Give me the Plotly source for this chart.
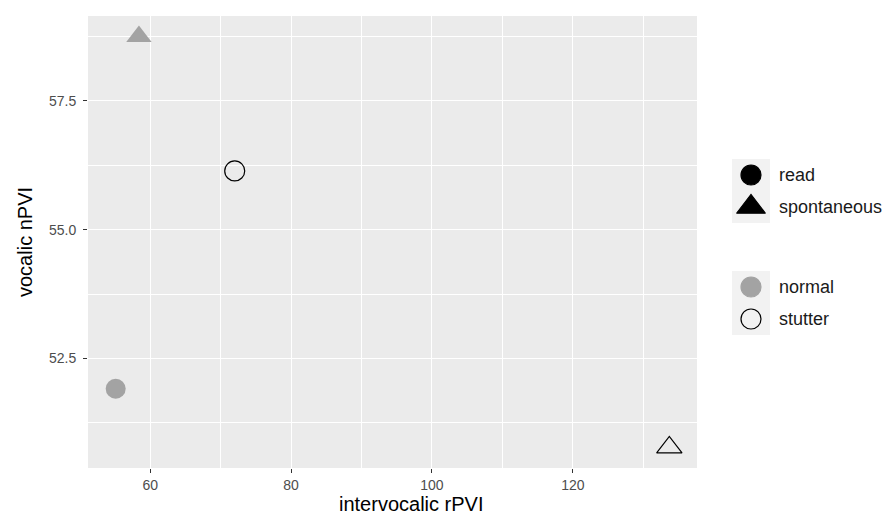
import plotly.graph_objects as go

# ---- data ----
speaker_group = ["normal", "normal", "stutter", "stutter"]
task = ["read", "spontaneous", "read", "spontaneous"]
intervocalic_rpvi = [55.1, 58.4, 72.0, 133.7]
vocalic_npvi = [51.91, 58.75, 56.14, 50.77]

x_ticks = [60, 80, 100, 120]
x_minor = [70, 90, 110, 130]
y_ticks = [52.5, 55.0, 57.5]
y_minor = [51.25, 53.75, 56.25, 58.75]

task_levels = ["read", "spontaneous"]
group_levels = ["normal", "stutter"]

# ---- styling ----
W, H = 890, 514
PANEL = dict(l=88, r=697, t=16, b=468)
GRAY = "#A3A3A3"
SYMBOL = {"read": "circle", "spontaneous": "triangle-up"}
MSIZE = {"read": 20, "spontaneous": 22}
FONT = "Liberation Sans, Arial, sans-serif"


def expand(vals, mult=0.05):
    lo, hi = min(vals), max(vals)
    d = (hi - lo) * mult
    return [lo - d, hi + d]


fig = go.Figure()

for g, t, xv, yv in zip(speaker_group, task, intervocalic_rpvi, vocalic_npvi):
    filled = g == "normal"
    fig.add_trace(go.Scatter(
        x=[xv], y=[yv], mode="markers", showlegend=False,
        marker=dict(symbol=SYMBOL[t], size=MSIZE[t], opacity=1,
                    color=GRAY if filled else "rgba(0,0,0,0)",
                    line=dict(color=GRAY if filled else "black", width=0 if filled else 1.2)),
        xaxis="x", yaxis="y", cliponaxis=False,
    ))

# ---- manual legend on a pixel-space overlay subplot ----
key_x = 751
label_x = 779
key_h = 32
groups_top = [159, 271]

leg_x, leg_y, leg_sym, leg_col, leg_line, leg_size, leg_lab = [], [], [], [], [], [], []
for gi, levels in enumerate([task_levels, group_levels]):
    top = groups_top[gi]
    for i, lab in enumerate(levels):
        cy = top + key_h * i + key_h / 2
        leg_x.append(key_x)
        leg_y.append(cy)
        leg_lab.append(lab)
        if gi == 0:
            leg_sym.append(SYMBOL[lab])
            leg_col.append("black")
            leg_line.append("black")
            leg_size.append(20 if lab == "read" else 25)
        else:
            leg_sym.append("circle")
            leg_col.append(GRAY if lab == "normal" else "rgba(0,0,0,0)")
            leg_line.append(GRAY if lab == "normal" else "black")
            leg_size.append(20)
    fig.add_shape(type="rect", xref="paper", yref="paper",
                  x0=732 / W, x1=770 / W,
                  y0=1 - (top + key_h * len(levels)) / H, y1=1 - top / H,
                  fillcolor="#F2F2F2", line=dict(width=0), layer="below")

fig.add_trace(go.Scatter(
    x=leg_x, y=leg_y, mode="markers", showlegend=False, cliponaxis=False,
    marker=dict(symbol=leg_sym, size=leg_size, color=leg_col, opacity=1,
                line=dict(color=leg_line, width=1.2)),
    xaxis="x2", yaxis="y2", hoverinfo="skip",
))
fig.add_trace(go.Scatter(
    x=[label_x] * len(leg_lab), y=[v + 1 for v in leg_y], mode="text", text=leg_lab,
    textposition="middle right", showlegend=False, cliponaxis=False,
    textfont=dict(family=FONT, size=18, color="#1A1A1A"),
    xaxis="x2", yaxis="y2", hoverinfo="skip",
))

# panel background
fig.add_shape(type="rect", xref="paper", yref="paper",
              x0=PANEL["l"] / W, x1=PANEL["r"] / W,
              y0=1 - PANEL["b"] / H, y1=1 - PANEL["t"] / H,
              fillcolor="#EBEBEB", line=dict(width=0), layer="below")

grid = dict(showgrid=True, gridcolor="white", gridwidth=1.3, zeroline=False,
            showline=False, ticks="outside", ticklen=4, tickwidth=1.1,
            tickcolor="#333333", tickfont=dict(family=FONT, size=14, color="#4D4D4D"),
            automargin=False)

fig.update_layout(
    width=W, height=H,
    margin=dict(l=0, r=0, t=0, b=0),
    paper_bgcolor="white", plot_bgcolor="rgba(0,0,0,0)",
    font=dict(family=FONT),
    showlegend=False,
    xaxis=dict(domain=[PANEL["l"] / W, PANEL["r"] / W], range=expand(intervocalic_rpvi),
               tickvals=x_ticks, anchor="y",
               minor=dict(tickvals=x_minor, showgrid=True, gridcolor="white",
                          gridwidth=0.6, ticks=""), **grid),
    yaxis=dict(domain=[1 - PANEL["b"] / H, 1 - PANEL["t"] / H], range=expand(vocalic_npvi),
               tickvals=y_ticks, tickformat=".1f", anchor="x", ticklabelstandoff=4,
               minor=dict(tickvals=y_minor, showgrid=True, gridcolor="white",
                          gridwidth=0.6, ticks=""), **grid),
    xaxis2=dict(domain=[0, 1], range=[0, W], visible=False, anchor="y2", fixedrange=True),
    yaxis2=dict(domain=[0, 1], range=[H, 0], visible=False, anchor="x2", fixedrange=True),
    annotations=[
        dict(text="intervocalic rPVI", xref="paper", yref="paper",
             x=411 / W, y=1 - 504 / H, xanchor="center", yanchor="middle",
             showarrow=False, font=dict(family=FONT, size=20, color="black")),
        dict(text="vocalic nPVI", xref="paper", yref="paper",
             x=25 / W, y=1 - 242 / H, xanchor="center", yanchor="middle",
             textangle=-90, showarrow=False, font=dict(family=FONT, size=20, color="black")),
    ],
)

fig.write_html("out.html", config={"displayModeBar": False},
               post_script="document.body.style.margin='0px';document.body.style.overflow='hidden';")
